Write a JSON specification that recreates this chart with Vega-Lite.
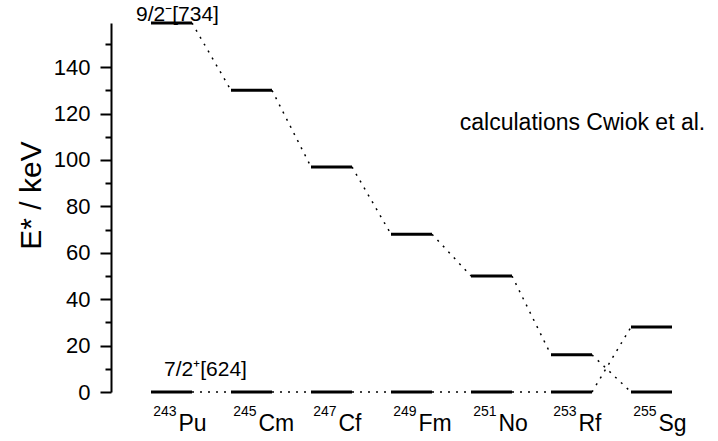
{
  "$schema": "https://vega.github.io/schema/vega-lite/v6.json",
  "width": 601,
  "height": 369,
  "autosize": {"type": "none"},
  "padding": {"left": 111, "top": 23, "right": 6, "bottom": 49},
  "background": "white",
  "config": {"view": {"stroke": null}, "font": "Liberation Sans", "text": {"font": "Liberation Sans", "color": "black"}},
  "datasets": {
    "levels": [
      {"nucleus": "Pu", "A": "243", "orbital": "9/2-[734]", "E": 159},
      {"nucleus": "Cm", "A": "245", "orbital": "9/2-[734]", "E": 130},
      {"nucleus": "Cf", "A": "247", "orbital": "9/2-[734]", "E": 97},
      {"nucleus": "Fm", "A": "249", "orbital": "9/2-[734]", "E": 68},
      {"nucleus": "No", "A": "251", "orbital": "9/2-[734]", "E": 50},
      {"nucleus": "Rf", "A": "253", "orbital": "9/2-[734]", "E": 16},
      {"nucleus": "Sg", "A": "255", "orbital": "9/2-[734]", "E": 0},
      {"nucleus": "Pu", "A": "243", "orbital": "7/2+[624]", "E": 0},
      {"nucleus": "Cm", "A": "245", "orbital": "7/2+[624]", "E": 0},
      {"nucleus": "Cf", "A": "247", "orbital": "7/2+[624]", "E": 0},
      {"nucleus": "Fm", "A": "249", "orbital": "7/2+[624]", "E": 0},
      {"nucleus": "No", "A": "251", "orbital": "7/2+[624]", "E": 0},
      {"nucleus": "Rf", "A": "253", "orbital": "7/2+[624]", "E": 0},
      {"nucleus": "Sg", "A": "255", "orbital": "7/2+[624]", "E": 28}
    ],
    "links": [
      {"from": "Pu", "to": "Cm", "E1": 159, "E2": 130},
      {"from": "Cm", "to": "Cf", "E1": 130, "E2": 97},
      {"from": "Cf", "to": "Fm", "E1": 97, "E2": 68},
      {"from": "Fm", "to": "No", "E1": 68, "E2": 50},
      {"from": "No", "to": "Rf", "E1": 50, "E2": 16},
      {"from": "Rf", "to": "Sg", "E1": 16, "E2": 0},
      {"from": "Pu", "to": "Cm", "E1": 0, "E2": 0},
      {"from": "Cm", "to": "Cf", "E1": 0, "E2": 0},
      {"from": "Cf", "to": "Fm", "E1": 0, "E2": 0},
      {"from": "Fm", "to": "No", "E1": 0, "E2": 0},
      {"from": "No", "to": "Rf", "E1": 0, "E2": 0},
      {"from": "Rf", "to": "Sg", "E1": 0, "E2": 28}
    ]
  },
  "resolve": {"axis": {"y": "independent"}},
  "layer": [
    {
      "data": {"name": "links"},
      "mark": {"type": "rule", "color": "black", "strokeWidth": 1.5, "strokeDash": [2, 6]},
      "encoding": {
        "x": {"field": "from", "type": "nominal", "bandPosition": 1,
              "scale": {"type": "band", "domain": ["Pu", "Cm", "Cf", "Fm", "No", "Rf", "Sg"], "paddingInner": 0.4875, "paddingOuter": 0.5},
              "axis": {"orient": "bottom", "domain": false, "ticks": false, "tickSize": 0, "labelAngle": 0, "labelAlign": "left", "labelOffset": 7,
                       "labelFontSize": 23, "labelBaseline": "alphabetic", "labelPadding": 38, "labelColor": "black",
                       "labelFont": "Liberation Sans", "title": null, "grid": false}},
        "x2": {"field": "to", "bandPosition": 0},
        "y": {"field": "E1", "type": "quantitative",
              "scale": {"domain": [0, 159], "nice": false, "zero": true},
              "axis": {"orient": "left", "values": [0, 20, 40, 60, 80, 100, 120, 140], "tickSize": 11, "tickWidth": 2,
                       "tickColor": "black", "domainColor": "black", "domainWidth": 2, "labelFontSize": 22,
                       "labelColor": "black", "labelFont": "Liberation Sans", "labelPadding": 10, "grid": false,
                       "title": "E* / keV", "titleFontSize": 30, "titleFontWeight": "normal", "titleFont": "Liberation Sans",
                       "titleColor": "black", "titleAngle": -90, "titleX": -80, "titleY": 172, "titleAlign": "center",
                       "titleBaseline": "middle"}},
        "y2": {"field": "E2"}
      }
    },
    {
      "data": {"name": "levels"},
      "mark": {"type": "rule", "color": "black", "strokeWidth": 3, "strokeCap": "butt"},
      "encoding": {
        "x": {"field": "nucleus", "type": "nominal", "bandPosition": 0},
        "x2": {"field": "nucleus", "bandPosition": 1},
        "y": {"field": "E", "type": "quantitative",
              "axis": {"orient": "left", "values": [10, 30, 50, 70, 90, 110, 130, 150], "tickSize": 6, "tickWidth": 2,
                       "tickColor": "black", "labels": false, "domain": false, "grid": false, "title": null}}
      }
    },
    {
      "data": {"name": "levels"},
      "transform": [{"filter": "datum.orbital === '7/2+[624]'"}],
      "mark": {"type": "text", "align": "right", "baseline": "alphabetic", "dx": 5, "dy": 24, "fontSize": 14},
      "encoding": {
        "x": {"field": "nucleus", "type": "nominal"},
        "y": {"datum": 0, "type": "quantitative", "axis": null},
        "text": {"field": "A"}
      }
    },
    {
      "data": {"name": "levels"},
      "transform": [{"filter": "datum.nucleus === 'Pu' && datum.orbital === '9/2-[734]'"}],
      "mark": {"type": "text", "align": "center", "baseline": "alphabetic", "dx": 6, "dy": -2, "fontSize": 21},
      "encoding": {
        "x": {"field": "nucleus", "type": "nominal"},
        "y": {"field": "E", "type": "quantitative", "axis": null},
        "text": {"value": "9/2⁻[734]"}
      }
    },
    {
      "data": {"name": "levels"},
      "transform": [{"filter": "datum.nucleus === 'Pu' && datum.orbital === '7/2+[624]'"}],
      "mark": {"type": "text", "align": "center", "baseline": "alphabetic", "dx": 34, "dy": -16, "fontSize": 21},
      "encoding": {
        "x": {"field": "nucleus", "type": "nominal"},
        "y": {"field": "E", "type": "quantitative", "axis": null},
        "text": {"value": "7/2⁺[624]"}
      }
    },
    {
      "data": {"values": [{"note": "calculations Cwiok et al.", "nucleus": "Rf", "E": 113}]},
      "mark": {"type": "text", "align": "center", "baseline": "alphabetic", "dx": 11, "fontSize": 23},
      "encoding": {
        "x": {"field": "nucleus", "type": "nominal"},
        "y": {"field": "E", "type": "quantitative", "axis": null},
        "text": {"field": "note"}
      }
    }
  ]
}
